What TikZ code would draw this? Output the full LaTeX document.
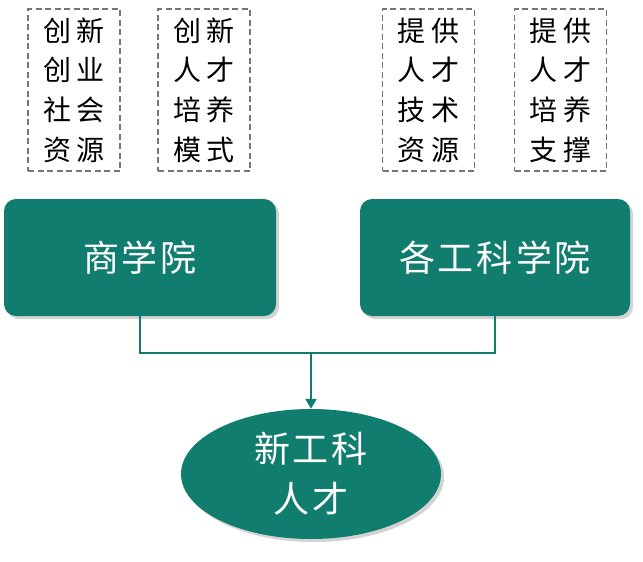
\documentclass[tikz,border=0pt]{standalone}
\usepackage{fontspec}
\usepackage{tikz}
\usepackage{xcolor}
\newfontfamily\cjk{Noto Sans CJK SC}
\usetikzlibrary{
    arrows,
    arrows.meta,
    shapes,
    shapes.geometric,
    shadows,
    calc,
    positioning
}
\definecolor{xgkgreen}{RGB}{17,125,110}
\definecolor{dashgray}{RGB}{118,118,118}
\newcommand{\kg}{\hspace{6pt}}
\newcommand{\bg}{\hspace{3pt}}
\tikzset{srcbox/.style={draw=dashgray, dashed, dash pattern=on 6pt off 3.5pt, line width=1.8pt, minimum width=92pt, minimum height=162pt, inner sep=0pt, align=center, font=\cjk\fontsize{28}{39.7}\selectfont}}
\tikzset{college/.style={rounded corners=12pt, fill=xgkgreen, text=white, minimum height=117pt, inner sep=0pt, font=\cjk\fontsize{36}{40}\selectfont, drop shadow={opacity=0.35, shadow xshift=3pt, shadow yshift=-3pt}}}
\tikzset{talent/.style={ellipse, fill=xgkgreen, text=white, minimum width=260pt, minimum height=130pt, inner sep=0pt, align=center, font=\cjk\fontsize{36}{50}\selectfont, drop shadow={opacity=0.35, shadow xshift=3pt, shadow yshift=-3pt}}}
\tikzset{link/.style={draw=xgkgreen, line width=2.2pt}}

\begin{document}
\begin{tikzpicture}[x=1pt, y=-1pt]
    \useasboundingbox (0, 0) rectangle (643, 562);

    \node[srcbox] (cxzy) at (74, 90) {创\kg 新\\创\kg 业\\社\kg 会\\资\kg 源};
    \node[srcbox] (rcpy) at (204, 90) {创\kg 新\\人\kg 才\\培\kg 养\\模\kg 式};
    \node[srcbox] (jszy) at (428.5, 90) {提\kg 供\\人\kg 才\\技\kg 术\\资\kg 源};
    \node[srcbox] (pyzc) at (560.5, 90) {提\kg 供\\人\kg 才\\培\kg 养\\支\kg 撑};

    \node[college, minimum width=272pt] (sxy) at (140, 257.5) {商\bg 学\bg 院};
    \node[college, minimum width=270pt] (gkxy) at (495, 257.5) {各\bg 工\bg 科\bg 学\bg 院};

    \node[talent] (xgk) at (311, 474) {新\bg 工\bg 科\\人\bg 才};

    \coordinate (join) at (311, 353);

    \draw[link] (sxy.south) |- (join);
    \draw[link] (gkxy.south) |- (join);
    \draw[link, -{Triangle[width=11pt, length=10pt]}] (join) -- (xgk.north);
\end{tikzpicture}
\end{document}
